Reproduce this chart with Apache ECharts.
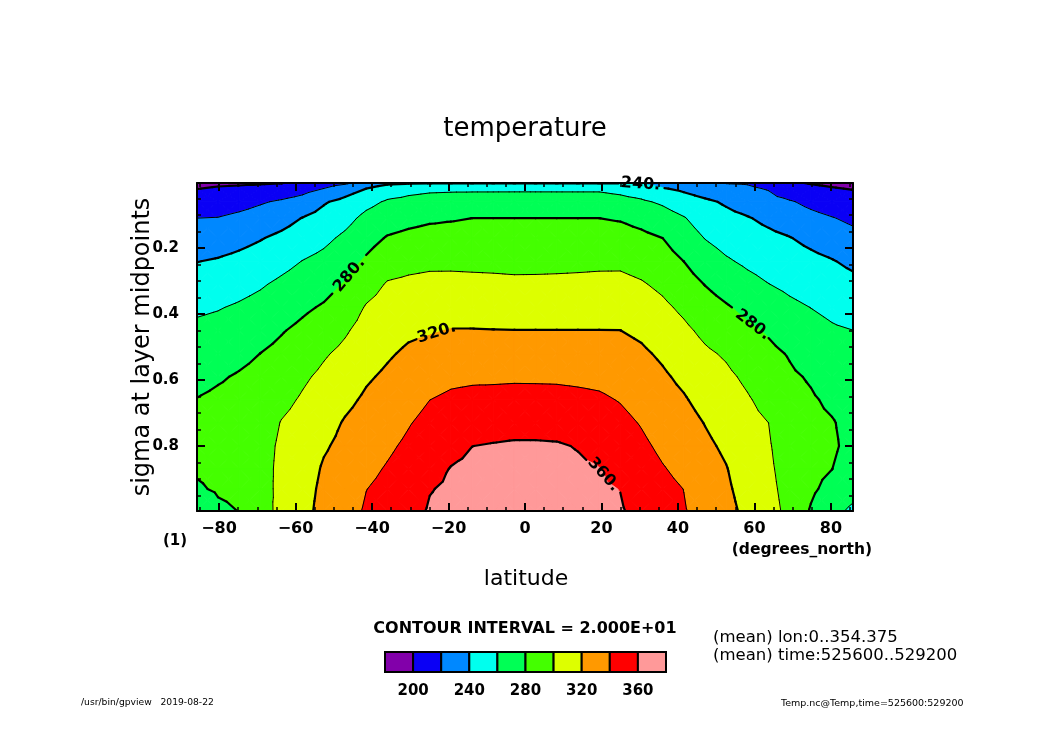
<!DOCTYPE html>
<html><head><meta charset="utf-8">
<script src="https://cdn.jsdelivr.net/npm/echarts@6/dist/echarts.min.js"></script>
<style>html,body{margin:0;padding:0;background:#fff}#c{width:1050px;height:742px}</style>
</head><body><div id="c"></div>
<script>
// ---------------- data ----------------
const latitudes = [-85.76,-80.27,-74.74,-69.21,-63.68,-58.14,-52.61,-47.07,-41.53,-36.00,-30.46,-24.92,-19.38,-13.84,-8.31,-2.77,
                   2.77,8.31,13.84,19.38,24.92,30.46,36.00,41.53,47.07,52.61,58.14,63.68,69.21,74.74,80.27,85.76];
const sigmaLevels = [0.003,0.02,0.06,0.11,0.17,0.24,0.31,0.38,0.45,0.52,0.59,0.66,0.73,0.80,0.87,0.93,0.997];
// temperature profile (K) at each latitude, from top (small sigma) to bottom
const temperature = [
  [196,199.7,208.8,220.1,229.1,239.6,248.4,257.1,263.8,269.4,275,280.5,284,285,283,277,259],
  [197.7,201.4,210,220.7,230.5,241.6,250.3,259,265.6,271.9,278.3,283,286,287,286,283,275],
  [198,202.5,213.3,224.3,234.4,244.8,253.9,262.1,268.8,275.5,281.5,285,287.5,288.5,288,285.5,280.5],
  [198.4,204.3,218.1,228.1,238.9,248.7,258.1,265.8,273.1,280.1,285,288,290.5,293,293.5,293,291],
  [199.5,207.3,222.5,233.2,244,254.3,263.5,271.1,278.8,284.6,290,295.4,300.8,303,304,304.5,306],
  [205,213.4,227.4,240.7,249.8,260.4,268.6,276.9,284.1,290.7,297.3,302,306,309,311,313,314],
  [212.8,220.2,238.2,246.8,255.8,265.1,273.5,281.9,290,298.1,303.7,308.5,313.3,318.1,322,324,326],
  [216.7,231,245.2,254.2,263.5,272.3,281.3,289.6,297.9,304.3,310.1,315.9,321.5,324.5,327.5,330,333],
  [228,240,254.7,264.8,272.9,282.6,292.6,301.4,306.9,312.4,317.8,322.7,327.1,331.5,335.9,339.7,342],
  [236,250,262.1,271,281.4,292.1,301.4,306.9,312.4,317.9,322.9,327.7,332.4,337.2,341.4,344.3,347.6],
  [238,255,264.4,274.5,284.8,294.9,303.4,310.1,316.9,322.9,328.2,333.6,338.9,343.1,347,350.4,354.1],
  [238.5,257,266.1,277.3,286.8,296.4,304.6,311.6,318.6,325.7,332.8,339.9,345,350,355,359.3,361.5],
  [239,257.5,266.6,278.6,287.1,296.4,304.8,312.7,320.7,328.4,336.2,343.2,349.5,355.7,360.6,362.2,364],
  [239,257.5,267.3,280.1,287.4,296,304.4,312.6,320.7,328.9,337.1,344.8,352.4,359.9,362.8,365.3,368],
  [239,257.5,267.4,280.2,287.3,295.7,304,312.2,320.4,328.7,337.1,345.6,353.8,361,364.5,367.5,371],
  [239,257.5,267.6,280.2,287.1,295.2,303.4,311.8,320.2,328.9,337.6,345.9,354,362,366,369.5,373],
  [239,257.5,267.6,280.2,287.1,295.3,303.5,311.8,320.2,328.8,337.5,345.8,354,362,366,369.5,373],
  [239,257.5,267.5,280.2,287.2,295.5,303.8,312,320.2,328.7,337.3,345.5,353.7,361.5,364.5,367.5,371],
  [239,257.5,267.5,280.1,287.4,295.9,304.2,312.2,320.2,328.4,336.5,344.3,351.8,359.2,362.5,365.5,368],
  [239,257.5,267.5,280.1,287.6,296.5,304.6,312.4,320.2,327.9,335.6,342.7,348.9,355.2,360.5,362,364],
  [238.5,255,265.6,278.6,287.2,296.5,304.8,312.5,320.1,326.5,332.8,339.1,344.6,349.9,355.2,359.7,361.5],
  [237,250,262.6,274.3,284.4,293.2,301.6,309.1,316.6,322.9,328.3,333.6,338.9,343.3,347.5,351,355],
  [234,241.3,257.3,268.4,280,288.1,296.2,303.6,310.3,317.1,322.6,327.3,331.9,336.6,341.1,344.5,348.3],
  [222,236.5,249.3,261.3,269.7,279.9,288,296.4,303.6,309.8,316,321.7,326.8,331.5,335.7,339.8,341],
  [220.7,230.3,243.4,250.7,259.5,269.5,279.5,287.8,295.9,302.8,308.3,313.9,319.4,323.6,327.7,331.2,335],
  [219.4,224.8,237.6,245.4,253,262.1,272.2,281.8,289.8,297.9,303.4,307.9,312.4,316.9,320.8,322.8,325],
  [218.8,222.6,231.4,241.3,248.4,256.7,265.7,275.2,283.4,290.1,296.8,301.6,304.6,307.6,310.6,313.2,316],
  [214,218.8,226.4,235.9,244.4,252.4,260.3,269.1,278,284.1,289.4,294.7,300,301.5,302.8,304,305.5],
  [202,207,221.8,230.6,240.7,248.4,256.1,263.7,271.2,278.7,282.5,285.5,288.5,291,293,294.5,296],
  [199,203.7,215.3,225.5,235.5,244.7,252.3,259.8,266,272.2,278.4,281.8,283.5,284.5,284.5,283,278.5],
  [197.2,201,210,221,230.4,241,248.7,256,262.1,267.1,272.1,277.2,281,282,280.1,274.5,266],
  [196,199.2,206.7,216.2,225.8,236.1,244.8,252.5,260.1,265,269.5,273,275.5,276,274,267,256]
];
const contourLevels = [200,220,240,260,280,300,320,340,360];
const bandColors = ['#8200aa','#0a00f5','#0088ff','#00ffee','#00ff55','#44ff00','#ddff00','#ff9900','#ff0000','#ff9999'];
const xTickLabels = [-80,-60,-40,-20,0,20,40,60,80];
const yTickLabels = [0.2,0.4,0.6,0.8];
const colorbarLabels = [200,240,280,320,360];
const contourLabels = [
  {level:240, lat:30.2},
  {level:280, lat:-45.9},
  {level:320, lat:-23.1},
  {level:280, lat:59.5},
  {level:360, lat:20.5}
];

// ---------------- helpers ----------------
const nLat = latitudes.length, nSig = sigmaLevels.length;
const FONT = 'DejaVu Sans';
const xMinor = []; for (let v = -85; v <= 85; v += 5) xMinor.push(v);
const yMinor = []; for (let k = 1; k <= 19; k++) yMinor.push(+(k*0.05).toFixed(2));

function bandIndex(v){ let k=0; while(k<contourLevels.length && v>=contourLevels[k]) k++; return k; }
function clipPoly(poly, level, keepAbove){
  const out=[];
  for (let k=0;k<poly.length;k++){
    const a=poly[k], b=poly[(k+1)%poly.length];
    const ina = keepAbove ? a[2]>=level : a[2]<level;
    const inb = keepAbove ? b[2]>=level : b[2]<level;
    if (ina) out.push(a);
    if (ina!==inb){
      const t=(level-a[2])/(b[2]-a[2]);
      out.push([a[0]+t*(b[0]-a[0]), a[1]+t*(b[1]-a[1]), level]);
    }
  }
  return out;
}
function cellTriangles(api, i, j){
  const c=[[i,j],[i+1,j],[i+1,j+1],[i,j+1]].map(([a,b])=>{const p=api.coord([latitudes[a],sigmaLevels[b]]);return [p[0],p[1],temperature[a][b]];});
  const m=[0,1,2].map(d=>(c[0][d]+c[1][d]+c[2][d]+c[3][d])/4);
  return [[c[0],c[1],m],[c[1],c[2],m],[c[2],c[3],m],[c[3],c[0],m]];
}
function crossingSigma(level, lat){
  let i=0; while(i<nLat-2 && latitudes[i+1]<lat) i++;
  const f=(lat-latitudes[i])/(latitudes[i+1]-latitudes[i]);
  let prev=null;
  for (let j=0;j<nSig;j++){
    const v=temperature[i][j]*(1-f)+temperature[i+1][j]*f;
    if (j>0 && (prev-level)*(v-level)<=0 && prev!==v){
      const t=(level-prev)/(v-prev);
      return sigmaLevels[j-1]+t*(sigmaLevels[j]-sigmaLevels[j-1]);
    }
    prev=v;
  }
  return null;
}
function labelGeom(lab, api){
  const p=api.coord([lab.lat, crossingSigma(lab.level, lab.lat)]);
  const d=2.5;
  const p1=api.coord([lab.lat-d, crossingSigma(lab.level, lab.lat-d)]);
  const p2=api.coord([lab.lat+d, crossingSigma(lab.level, lab.lat+d)]);
  return {x:p[0], y:p[1], rot:Math.atan2(-(p2[1]-p1[1]), p2[0]-p1[0]), level:lab.level};
}

const cells=[];
for (let i=0;i<nLat-1;i++) for (let j=0;j<nSig-1;j++) cells.push([latitudes[i], sigmaLevels[j], i, j]);

function renderFill(params, api){
  const tris=cellTriangles(api, api.value(2), api.value(3));
  const children=[];
  tris.forEach(tri=>{
    const vs=tri.map(p=>p[2]);
    const b0=bandIndex(Math.min(...vs)), b1=bandIndex(Math.max(...vs));
    for (let b=b0;b<=b1;b++){
      let poly=tri;
      if (b>0) poly=clipPoly(poly, contourLevels[b-1], true);
      if (b<contourLevels.length && poly.length) poly=clipPoly(poly, contourLevels[b], false);
      if (poly.length>=3) children.push({type:'polygon', silent:true,
        shape:{points:poly.map(p=>[p[0],p[1]])},
        style:{fill:bandColors[b], stroke:bandColors[b], lineWidth:1}});
    }
  });
  return {type:'group', children};
}
function renderLines(params, api){
  const tris=cellTriangles(api, api.value(2), api.value(3));
  const labs=contourLabels.map(l=>labelGeom(l, api));
  const children=[];
  tris.forEach(tri=>{
    contourLevels.forEach(L=>{
      const pts=[];
      for (let k=0;k<3;k++){
        const a=tri[k], b=tri[(k+1)%3];
        if ((a[2]>=L)!==(b[2]>=L)){
          const t=(L-a[2])/(b[2]-a[2]);
          pts.push([a[0]+t*(b[0]-a[0]), a[1]+t*(b[1]-a[1])]);
        }
      }
      if (pts.length!==2) return;
      const mx=(pts[0][0]+pts[1][0])/2, my=(pts[0][1]+pts[1][1])/2;
      for (const g of labs){
        if (g.level!==L) continue;
        const dx=mx-g.x, dy=my-g.y;
        const u=dx*Math.cos(g.rot)-dy*Math.sin(g.rot);
        const v=dx*Math.sin(g.rot)+dy*Math.cos(g.rot);
        if (Math.abs(u)<24 && Math.abs(v)<12) return;
      }
      const thick = L%40===0;
      children.push({type:'line', silent:true,
        shape:{x1:pts[0][0],y1:pts[0][1],x2:pts[1][0],y2:pts[1][1]},
        style:{stroke:'#000', lineWidth:thick?2.2:1, lineCap:'round'}});
    });
  });
  return {type:'group', children};
}
function renderLabels(params, api){
  const g=labelGeom(contourLabels[api.value(2)], api);
  return {type:'text', x:g.x, y:g.y, rotation:g.rot, silent:true,
    style:{text:g.level+'.', fontSize:16, fontFamily:FONT, fontWeight:'bold', fill:'#000',
      align:'center', verticalAlign:'middle', textAlign:'center', textVerticalAlign:'middle'}};
}

const fmtLat = v => (v<0 ? '\u2212'+Math.abs(v) : String(v));
function xAx(pos, values, len, showLine, showLabel){
  return {type:'value', gridIndex:0, position:pos, min:latitudes[0], max:latitudes[nLat-1], z:10,
    axisLine:{show:showLine, onZero:false, lineStyle:{color:'#000', width:2}},
    axisTick:{show:true, inside:true, length:len, customValues:values, lineStyle:{color:'#000', width:len>5?2:1.5}},
    axisLabel:{show:showLabel, customValues:values, margin:10, formatter:fmtLat, color:'#000',
      fontFamily:FONT, fontSize:16, fontWeight:'bold'},
    splitLine:{show:false}, minorTick:{show:false}};
}
function yAx(pos, values, len, showLine, showLabel){
  return {type:'value', gridIndex:0, position:pos, min:sigmaLevels[0], max:sigmaLevels[nSig-1], inverse:true, z:10,
    axisLine:{show:showLine, onZero:false, lineStyle:{color:'#000', width:2}},
    axisTick:{show:true, inside:true, length:len, customValues:values, lineStyle:{color:'#000', width:len>5?2:1.5}},
    axisLabel:{show:showLabel, customValues:values, margin:18, formatter:v=>v.toFixed(1), color:'#000',
      fontFamily:FONT, fontSize:15, fontWeight:'bold'},
    splitLine:{show:false}, minorTick:{show:false}};
}

// colour bar + texts
const graphics=[];
const cbX=385, cbY=652, cbW=28.1, cbH=20;
bandColors.forEach((col,k)=>{
  graphics.push({type:'rect', shape:{x:cbX+k*cbW, y:cbY, width:cbW, height:cbH},
    style:{fill:col, stroke:'#000', lineWidth:2}, z:5});
});
colorbarLabels.forEach(v=>{
  const k=contourLevels.indexOf(v)+1;
  graphics.push({type:'text', x:cbX+k*cbW, y:691, style:{text:String(v), fontFamily:FONT, fontSize:15, fontWeight:'bold', fill:'#000', align:'center', verticalAlign:'middle', textAlign:'center', textVerticalAlign:'middle'}});
});
function txt(x,y,text,size,weight,align,rot){
  return {type:'text', x, y, rotation:rot||0, style:{text, fontFamily:FONT, fontSize:size, fontWeight:weight||'normal', fill:'#000',
    align:align||'center', verticalAlign:'middle', textAlign:align||'center', textVerticalAlign:'middle'}};
}
graphics.push(txt(525,129,'temperature',26));
graphics.push(txt(143,347,'sigma at layer midpoints',24,'normal','center',Math.PI/2));
graphics.push(txt(175,541,'(1)',15,'bold'));
graphics.push(txt(872,550,'(degrees_north)',15.5,'bold','right'));
graphics.push(txt(526,579,'latitude',22));
graphics.push(txt(525,629,'CONTOUR INTERVAL = 2.000E+01',16,'bold'));
graphics.push(txt(713,638,'(mean) lon:0..354.375',16.5,'normal','left'));
graphics.push(txt(713,656,'(mean) time:525600..529200',16.5,'normal','left'));
graphics.push(txt(81,703,'/usr/bin/gpview   2019-08-22',9.2,'normal','left'));
graphics.push(txt(781,704,'Temp.nc@Temp,time=525600:529200',9.5,'normal','left'));

const chart=echarts.init(document.getElementById('c'), null, {renderer:'canvas', width:1050, height:742});
chart.setOption({
  animation:false,
  backgroundColor:'#fff',
  grid:{left:197, top:183, width:656, height:328, show:false},
  xAxis:[
    xAx('bottom', xTickLabels, 8, true, true),
    xAx('bottom', xMinor, 4, false, false),
    xAx('top', xTickLabels, 8, true, false),
    xAx('top', xMinor, 4, false, false)
  ],
  yAxis:[
    yAx('left', yTickLabels, 8, true, true),
    yAx('left', yMinor, 4, false, false),
    yAx('right', yTickLabels, 8, true, false),
    yAx('right', yMinor, 4, false, false)
  ],
  series:[
    {type:'custom', name:'fill', xAxisIndex:0, yAxisIndex:0, data:cells, encode:{x:0,y:1}, renderItem:renderFill, clip:true, z:2, silent:true},
    {type:'custom', name:'contours', xAxisIndex:0, yAxisIndex:0, data:cells, encode:{x:0,y:1}, renderItem:renderLines, clip:true, z:3, silent:true},
    {type:'custom', name:'labels', xAxisIndex:0, yAxisIndex:0, data:contourLabels.map((l,k)=>[l.lat,0.5,k]), encode:{x:0,y:1}, renderItem:renderLabels, clip:false, z:20, silent:true}
  ],
  graphic:{elements:graphics}
});
</script></body></html>
